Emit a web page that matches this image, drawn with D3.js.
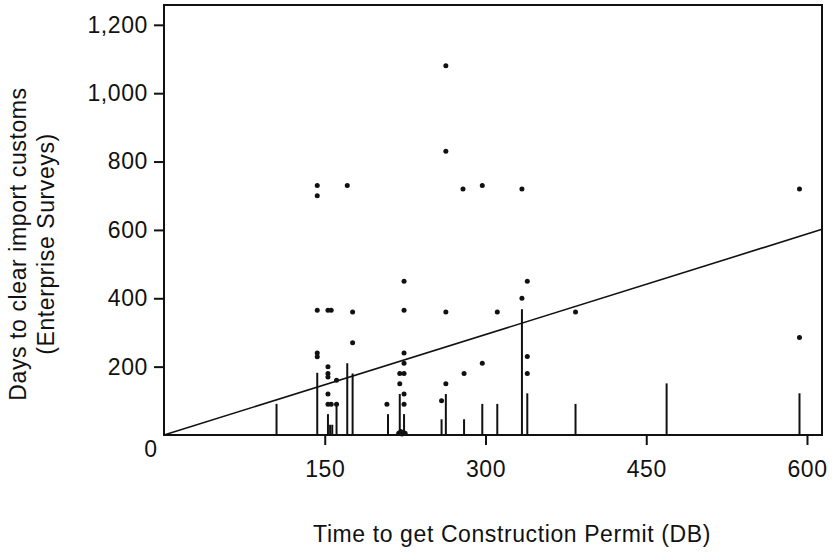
<!DOCTYPE html>
<html>
<head>
<meta charset="utf-8">
<script src="https://cdn.jsdelivr.net/npm/d3@7"></script>
<style>
  body { margin: 0; background: #fff; }
  svg text { font-family: "Liberation Sans", Arial, sans-serif; font-size: 23px; letter-spacing: 0.6px; fill: #111; }
</style>
</head>
<body>
<svg id="chart" width="833" height="555"></svg>
<script>
// days to get construction permit (x) vs days to clear import customs (y)
const dotX = [143, 143, 171, 263, 263, 279, 297, 334, 593,
  143, 153, 156, 176, 224, 339, 224, 263, 311, 384, 593, 334,
  176, 143, 143, 224, 224, 220, 224, 220, 224, 224, 153, 153, 153, 161, 153, 153, 156, 161,
  208, 259, 263, 280, 297, 339, 339, 219, 222, 225, 221]
const dotY = [730, 700, 730, 1080, 830, 720, 730, 720, 720,
  365, 365, 365, 360, 450, 450, 365, 360, 360, 360, 285, 400,
  270, 240, 229, 240, 210, 180, 180, 150, 120, 90, 200, 180, 170, 160, 120, 90, 90, 90,
  90, 100, 150, 180, 210, 230, 180, 5, 3, 5, 10]

// vertical spikes
const spikeX = [105, 143, 153, 155, 157, 161, 171, 176, 209, 220, 224, 259, 263, 280, 297, 311, 334, 339, 384, 469, 593]
const spikeH = [91, 182, 61, 30, 30, 90, 210, 180, 61, 120, 61, 46, 120, 46, 91, 91, 368, 122, 91, 151, 122]

// fitted line y = slope * x + intercept
const fitSlope = 0.98
const fitIntercept = 0

const xTicks = [150, 300, 450, 600]
const yTicks = [200, 400, 600, 800, 1000, 1200]
const originLabel = '0'
const xMax = 614
const yMax = 1258
const xTitle = 'Time to get Construction Permit (DB)'
const yTitle = ['Days to clear import customs', '(Enterprise Surveys)']

const svg = d3.select('#chart')
const plotLeft = 164, plotRight = 822, plotTop = 5, plotBottom = 435

const x = d3.scaleLinear().domain([0, xMax]).range([plotLeft, plotRight])
const y = d3.scaleLinear().domain([0, yMax]).range([plotBottom, plotTop])

// frame
svg.append('rect')
  .attr('x', plotLeft).attr('y', plotTop)
  .attr('width', plotRight - plotLeft).attr('height', plotBottom - plotTop)
  .attr('fill', 'none').attr('stroke', '#111').attr('stroke-width', 2)

const xAxis = svg.append('g')
  .attr('transform', `translate(0,${plotBottom})`)
  .call(d3.axisBottom(x).tickValues(xTicks).tickFormat(d3.format(',')).tickSize(10).tickSizeOuter(0).tickPadding(16))
const yAxis = svg.append('g')
  .attr('transform', `translate(${plotLeft},0)`)
  .call(d3.axisLeft(y).tickValues(yTicks).tickFormat(d3.format(',')).tickSize(10).tickSizeOuter(0).tickPadding(6))

;[xAxis, yAxis].forEach(a => {
  a.select('.domain').remove()
  a.selectAll('line').attr('stroke', '#111').attr('stroke-width', 2)
  a.selectAll('text').attr('fill', '#111').style('font-size', '23px').style('font-family', '"Liberation Sans", Arial, sans-serif')
})

svg.append('text')
  .attr('x', 151).attr('y', 457)
  .attr('text-anchor', 'middle')
  .text(originLabel)

const spikes = d3.range(spikeX.length).map(i => ({ x: spikeX[i], h: spikeH[i] }))
svg.append('g').selectAll('line')
  .data(spikes)
  .enter()
  .append('line')
  .attr('x1', d => x(d.x)).attr('x2', d => x(d.x))
  .attr('y1', y(0)).attr('y2', d => y(d.h))
  .attr('stroke', '#111')
  .attr('stroke-width', 2)

const dots = d3.range(dotX.length).map(i => ({ x: dotX[i], y: dotY[i] }))
svg.append('g').selectAll('circle')
  .data(dots)
  .enter()
  .append('circle')
  .attr('cx', d => x(d.x))
  .attr('cy', d => y(d.y))
  .attr('r', 2.5)
  .attr('fill', '#111')

svg.append('line')
  .attr('x1', x(0)).attr('y1', y(fitIntercept))
  .attr('x2', x(xMax)).attr('y2', y(fitIntercept + fitSlope * xMax))
  .attr('stroke', '#111')
  .attr('stroke-width', 1.6)

svg.append('text')
  .attr('x', 512).attr('y', 542)
  .attr('text-anchor', 'middle')
  .text(xTitle)

svg.append('g')
  .attr('transform', 'translate(0,244) rotate(-90)')
  .selectAll('text')
  .data(yTitle)
  .enter()
  .append('text')
  .attr('x', 0)
  .attr('y', (d, i) => 26 + i * 28)
  .attr('text-anchor', 'middle')
  .text(d => d)
</script>
</body>
</html>
